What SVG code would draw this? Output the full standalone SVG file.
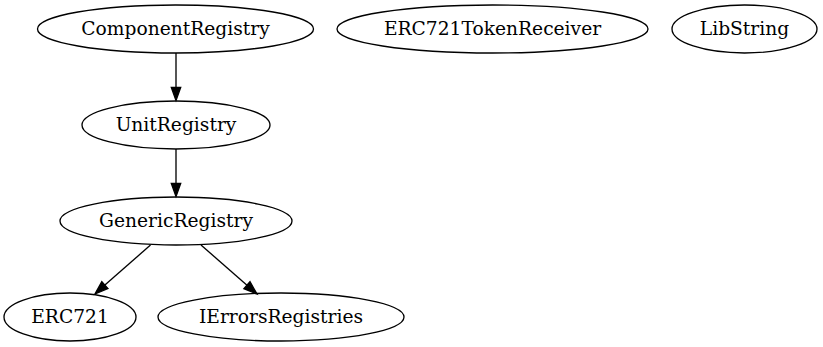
<svg xmlns="http://www.w3.org/2000/svg" width="823" height="347" viewBox="0 0 823 347">
  <style>
    .node ellipse { fill: none; stroke: #000; stroke-width: 1.33; }
    .node text { font-family: "DejaVu Serif", "Liberation Serif", serif; font-size: 18.67px; text-anchor: middle; fill: #000; }
    .edge path { fill: none; stroke: #000; stroke-width: 1.33; }
    .edge polygon { fill: #000; stroke: #000; stroke-width: 1.33; }
  </style>
  <rect width="823" height="347" fill="#fff"/>

  <g id="edges">
    <g class="edge" id="ComponentRegistry-UnitRegistry">
      <path d="M176,53 L176,87.3"/>
      <polygon points="180.7,87.3 171.3,87.3 176,100.6"/>
    </g>
    <g class="edge" id="UnitRegistry-GenericRegistry">
      <path d="M176,149 L176,183.3"/>
      <polygon points="180.7,183.3 171.3,183.3 176,196.6"/>
    </g>
    <g class="edge" id="GenericRegistry-ERC721">
      <path d="M150.5,245 L104.9,285.1"/>
      <polygon points="108,288.6 101.8,281.6 95,294"/>
    </g>
    <g class="edge" id="GenericRegistry-IErrorsRegistries">
      <path d="M201,245 L247,285.2"/>
      <polygon points="243.9,288.7 250,281.7 257,294"/>
    </g>
  </g>

  <g class="node" id="ComponentRegistry">
    <ellipse cx="175.5" cy="29" rx="138" ry="24"/>
    <text x="175.5" y="34.6">ComponentRegistry</text>
  </g>
  <g class="node" id="ERC721TokenReceiver">
    <ellipse cx="492.5" cy="29" rx="155.5" ry="24"/>
    <text x="492.5" y="34.6">ERC721TokenReceiver</text>
  </g>
  <g class="node" id="LibString">
    <ellipse cx="744.5" cy="29" rx="72.5" ry="24"/>
    <text x="744.5" y="34.6">LibString</text>
  </g>
  <g class="node" id="UnitRegistry">
    <ellipse cx="176" cy="125" rx="94" ry="24"/>
    <text x="176" y="130.6">UnitRegistry</text>
  </g>
  <g class="node" id="GenericRegistry">
    <ellipse cx="176" cy="221" rx="116" ry="24"/>
    <text x="176" y="226.6">GenericRegistry</text>
  </g>
  <g class="node" id="ERC721">
    <ellipse cx="70" cy="317" rx="66" ry="24"/>
    <text x="70" y="322.6">ERC721</text>
  </g>
  <g class="node" id="IErrorsRegistries">
    <ellipse cx="281" cy="317" rx="123" ry="24"/>
    <text x="281" y="322.6">IErrorsRegistries</text>
  </g>
</svg>
